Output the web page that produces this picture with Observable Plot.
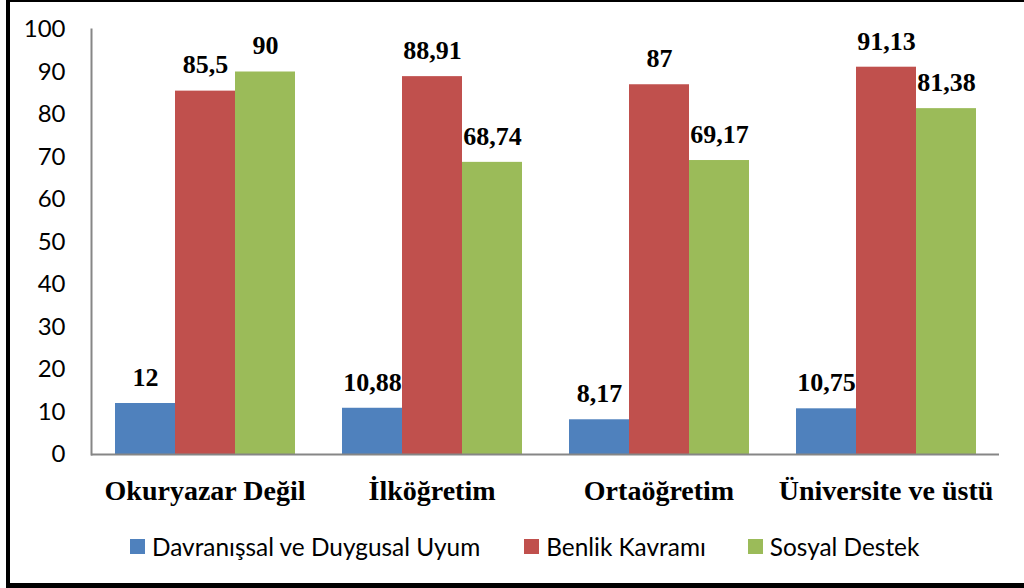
<!DOCTYPE html>
<html><head><meta charset="utf-8">
<script src="https://cdn.jsdelivr.net/npm/d3@7"></script>
<script src="https://cdn.jsdelivr.net/npm/@observablehq/plot@0.6"></script>
<style>
html,body{margin:0;padding:0;background:#fff;}
#wrap{position:relative;width:1024px;height:588px;overflow:hidden;}
#border{position:absolute;left:6px;top:0;width:1100px;height:581px;border-left:4px solid #000;border-top:2px solid #000;border-bottom:6px solid #000;box-sizing:content-box;}
#chart{position:absolute;left:0;top:0;}
#legend{position:absolute;top:532px;left:130px;display:flex;font-family:Lato,"Open Sans",sans-serif;font-size:24.4px;color:#000;}
#legend .it{display:flex;align-items:center;}
#legend .sw{width:15px;height:15px;margin-right:7px;}
</style></head>
<body><div id="wrap"><div id="border"></div><div id="chart"></div><div id="legend"></div></div>
<script>
const categories = ["Okuryazar Değil", "İlköğretim", "Ortaöğretim", "Üniversite ve üstü"];
const series = ["Davranışsal ve Duygusal Uyum", "Benlik Kavramı", "Sosyal Destek"];
const davranissal = [12, 10.88, 8.17, 10.75];
const benlik = [85.5, 88.91, 87, 91.13];
const sosyal = [90, 68.74, 69.17, 81.38];
const colors = ["#4F81BD", "#C0504D", "#9BBB59"];
const yTicks = [0, 10, 20, 30, 40, 50, 60, 70, 80, 90, 100];

const seriesValues = [davranissal, benlik, sosyal];
const data = [];
categories.forEach((c, i) => series.forEach((s, j) => data.push({cat: c, series: s, value: seriesValues[j][i]})));
const fmt = v => String(v).replace(".", ",");

const plot = Plot.plot({
  width: 1024, height: 520,
  marginLeft: 91, marginRight: 25, marginTop: 29, marginBottom: 66,
  fx: {domain: categories, padding: 0, label: null},
  x: {domain: series, paddingInner: 0, paddingOuter: 0.37, axis: null},
  y: {domain: [0, 100], label: null},
  color: {domain: series, range: colors},
  style: {background: "transparent"},
  marks: [
    Plot.barY(data, {fx: "cat", x: "series", y: "value", fill: "series"}),
    Plot.ruleY([0], {stroke: "#868686", strokeWidth: 2}),
    Plot.frame({anchor: "left", stroke: "#868686", strokeWidth: 2, facetAnchor: "left"}),
    Plot.text(data, {fx: "cat", x: "series", y: "value", text: d => fmt(d.value), dy: -26,
      fontSize: 26, fontWeight: "bold", fontFamily: "'Liberation Serif', 'Times New Roman', serif", fill: "#000"}),
    Plot.axisY({ticks: yTicks, tickSize: 0, tickPadding: 26, fontSize: 24, fontFamily: "Lato, 'Open Sans', sans-serif", fill: "#000", label: null}),
    Plot.axisFx({anchor: "bottom", tickSize: 0, tickPadding: 26, fontSize: 28, fontWeight: "bold", fontFamily: "'Liberation Serif', 'Times New Roman', serif", fill: "#000", label: null})
  ]
});
document.getElementById("chart").appendChild(plot);

const lg = document.getElementById("legend");
const gaps = [0, 44, 42];
series.forEach((s, i) => {
  const it = document.createElement("div");
  it.className = "it";
  it.style.marginLeft = gaps[i] + "px";
  it.innerHTML = `<span class="sw" style="background:${colors[i]}"></span><span>${s}</span>`;
  lg.appendChild(it);
});
</script></body></html>
